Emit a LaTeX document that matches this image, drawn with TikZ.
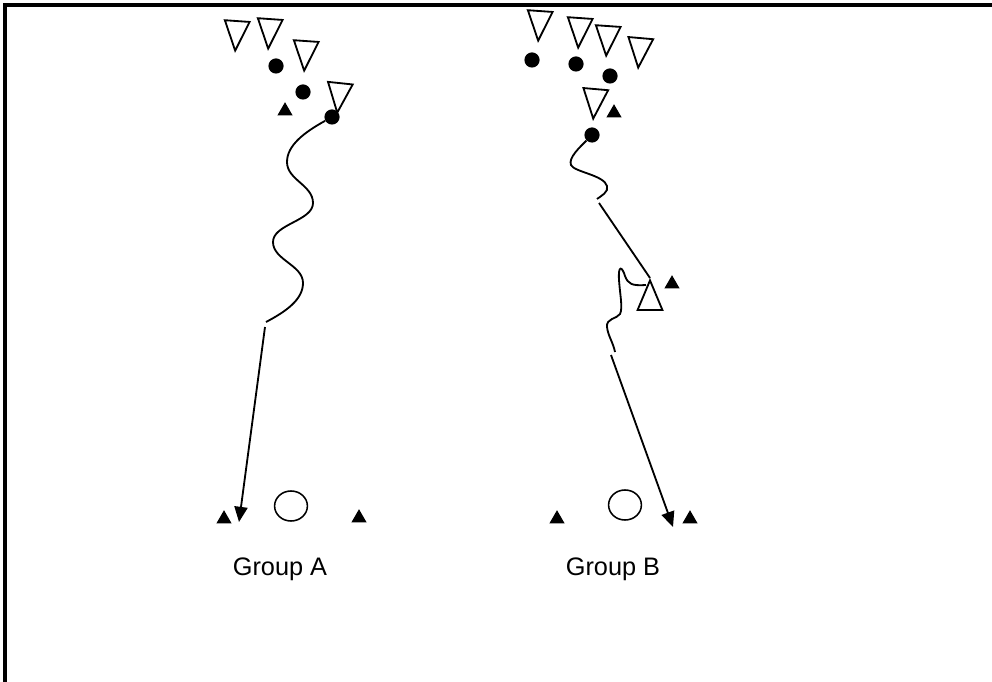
\documentclass[tikz,border=0pt]{standalone}
\usepackage{fontspec}
\setmainfont{Liberation Sans}
\usetikzlibrary{positioning,arrows.meta,shapes.geometric}
\tikzset{
  figopp/.style={isosceles triangle, isosceles triangle stretches=true, draw,
    line width=1.3pt, minimum width=6.2mm, minimum height=7.4mm, inner sep=0pt,
    fill=white, anchor=apex},
  figdot/.style={circle, fill=black, minimum size=3.8mm, inner sep=0pt},
  figcone/.style={regular polygon, regular polygon sides=3, fill=black,
    minimum size=4.4mm, inner sep=0pt},
  figring/.style={ellipse, draw, line width=1.1pt, minimum width=8.2mm,
    minimum height=7.5mm, inner sep=0pt},
  figdribble/.style={line width=1.3pt},
  figpass/.style={line width=1.3pt, -{Triangle[length=3.8mm, width=3.3mm]}},
  figlabel/.style={font=\fontsize{18}{22}\selectfont, anchor=base},
}

\begin{document}
\begin{tikzpicture}[x=0.025cm, y=-0.025cm]
  \useasboundingbox (0,0) rectangle (992,682);
  % frame
  \draw[line width=2.8pt] (5,682) -- (5,5) -- (992,5);

  % Group A
  \node[figopp, rotate=-94] (oppA1) at (235,53) {};
  \node[figopp, rotate=-94] (oppA2) at (268,51) {};
  \node[figopp, rotate=-94] (oppA3) at (304,73) {};
  \node[figopp, rotate=-96] (oppA4) at (337,115) {};
  \node[figdot] (dotA1) at (276,66) {};
  \node[figdot] (dotA2) at (303,92) {};
  \node[figdot] (dotA3) at (332,117) {};
  \node[figcone] (coneA1) at (285,111) {};
  \coordinate (dribA) at (266,322);
  \coordinate (passA) at (265,327);
  \coordinate (tipA) at (239,522);
  \draw[figdribble] (dotA3) .. controls (305,132) and (287,145) .. (287,162)
    .. controls (287,180) and (313,185) .. (313,203)
    .. controls (313,221) and (273,224) .. (273,242)
    .. controls (273,260) and (303,265) .. (303,283)
    .. controls (303,300) and (285,312) .. (dribA);
  \draw[figpass] (passA) -- (tipA);
  \node[figcone] (coneA2) at (224,519) {};
  \node[figring] (ringA) at (291,506) {};
  \node[figcone] (coneA3) at (359,518) {};
  \node[figlabel] (lblA) at (280,575) {Group A};

  % Group B
  \node[figopp, rotate=-94] (oppB1) at (538,43) {};
  \node[figopp, rotate=-94] (oppB2) at (578,50) {};
  \node[figopp, rotate=-94] (oppB3) at (606,58) {};
  \node[figopp, rotate=-95] (oppB4) at (638,70) {};
  \node[figopp, rotate=-95] (oppB5) at (593,121) {};
  \node[figdot] (dotB1) at (532,60) {};
  \node[figdot] (dotB2) at (576,64) {};
  \node[figdot] (dotB3) at (610,76) {};
  \node[figdot] (dotB4) at (592,135) {};
  \node[figcone] (coneB1) at (614,113) {};
  \node[figopp, rotate=90] (recvB) at (650,278) {};
  \node[figcone] (coneB2) at (672,284) {};
  \coordinate (dribB) at (597,199);
  \coordinate (passB) at (599,203);
  \draw[figdribble] (dotB4) .. controls (580,147) and (568,158) .. (571,165)
    .. controls (574,172) and (604,175) .. (607,186)
    .. controls (609,192) and (601,196) .. (dribB);
  \draw[figdribble] (passB) -- (recvB.apex);
  \coordinate (dribBB) at (646,285);
  \coordinate (dribBBend) at (615,352);
  \coordinate (passBB) at (611,355);
  \coordinate (tipB) at (673,527);
  \draw[figdribble] (dribBB) .. controls (632,286) and (628,284) .. (625,276)
    .. controls (622,266) and (618,265) .. (619,280)
    .. controls (620,295) and (623,308) .. (620,314)
    .. controls (617,319) and (606,318) .. (607,327)
    .. controls (608,336) and (613,342) .. (dribBBend);
  \draw[figpass] (passBB) -- (tipB);
  \node[figcone] (coneB3) at (557,519) {};
  \node[figring] (ringB) at (625,505) {};
  \node[figcone] (coneB4) at (690,519) {};
  \node[figlabel] (lblB) at (613,575) {Group B};
\end{tikzpicture}
\end{document}
